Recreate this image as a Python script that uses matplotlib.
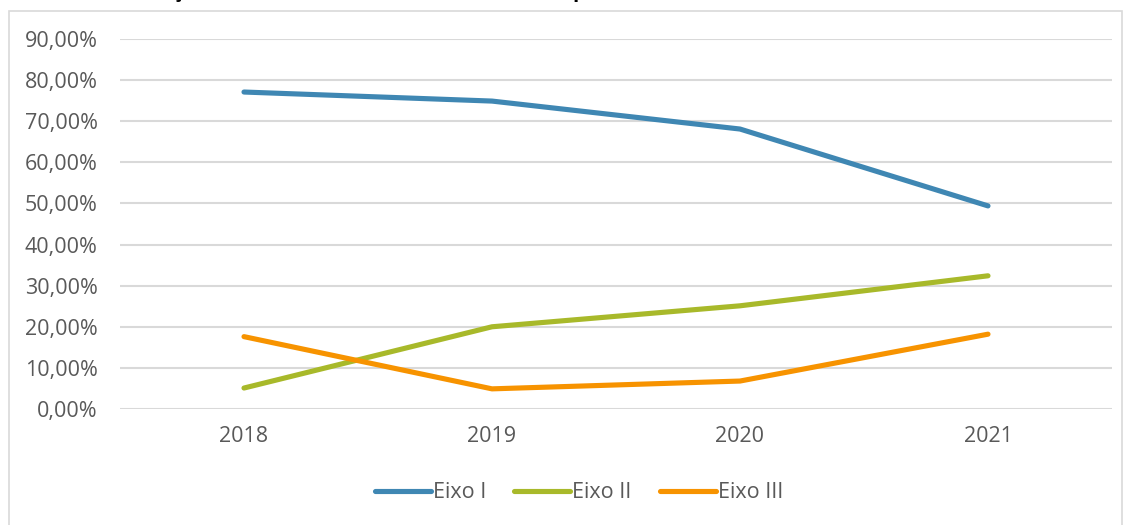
import matplotlib.pyplot as plt
from matplotlib.patches import Rectangle
from matplotlib.ticker import FuncFormatter

plt.rcParams['font.family'] = ['Open Sans', 'DejaVu Sans']

# taxa de sucesso anual por eixo (%)
anos = ['2018', '2019', '2020', '2021']
eixo_1 = [77.1, 74.9, 68.1, 49.4]
eixo_2 = [5.1, 20.0, 25.1, 32.4]
eixo_3 = [17.6, 4.9, 6.8, 18.2]

series = [('Eixo I', eixo_1, '#3F87B3'),
          ('Eixo II', eixo_2, '#A8B92A'),
          ('Eixo III', eixo_3, '#F79300')]

W, H = 1128, 525
fig = plt.figure(figsize=(W / 100, H / 100), dpi=100)

# moldura do gráfico
fig.patches.append(Rectangle((9 / W, -0.05), (1122 - 9) / W, (H - 11) / H + 0.05,
                             transform=fig.transFigure, fill=False,
                             edgecolor='#D9D9D9', linewidth=1.2))

# título (cortado no topo)
fig.text(3 / W, 1 + 3 / H, 'Gráfico 5 – Evolução anual da taxa de sucesso da EMPP por eixo',
         fontsize=15, fontweight='bold', color='black', va='baseline', ha='left')

ax = fig.add_axes([120 / W, (H - 409) / H, (1112 - 120) / W, (409 - 39) / H])
x = range(len(anos))
for nome, vals, cor in series:
    ax.plot(x, vals, color=cor, linewidth=3.7, solid_capstyle='round', label=nome, zorder=3)

ax.set_xlim(-0.5, len(anos) - 0.5)
ax.set_ylim(0, 90)
ax.set_yticks(range(0, 91, 10))
ax.yaxis.set_major_formatter(FuncFormatter(lambda v, p: f'{v:.2f}'.replace('.', ',') + '%'))
ax.set_xticks(list(x))
ax.set_xticklabels(anos)
ax.grid(axis='y', color='#D9D9D9', linewidth=1.5, zorder=0)
ax.set_axisbelow(True)
for s in ax.spines.values():
    s.set_visible(False)
ax.tick_params(axis='both', length=0, labelsize=15.5, colors='#595959')
ax.tick_params(axis='y', pad=16)
ax.tick_params(axis='x', pad=12)

leg = fig.legend(loc='center', bbox_to_anchor=(579 / W, 1 - 493 / H), ncol=3,
                 frameon=False, fontsize=15.5, handlelength=2.6, columnspacing=1.3,
                 handletextpad=0.1)
for t in leg.get_texts():
    t.set_color('#595959')

fig.savefig('out.png', dpi=100)
